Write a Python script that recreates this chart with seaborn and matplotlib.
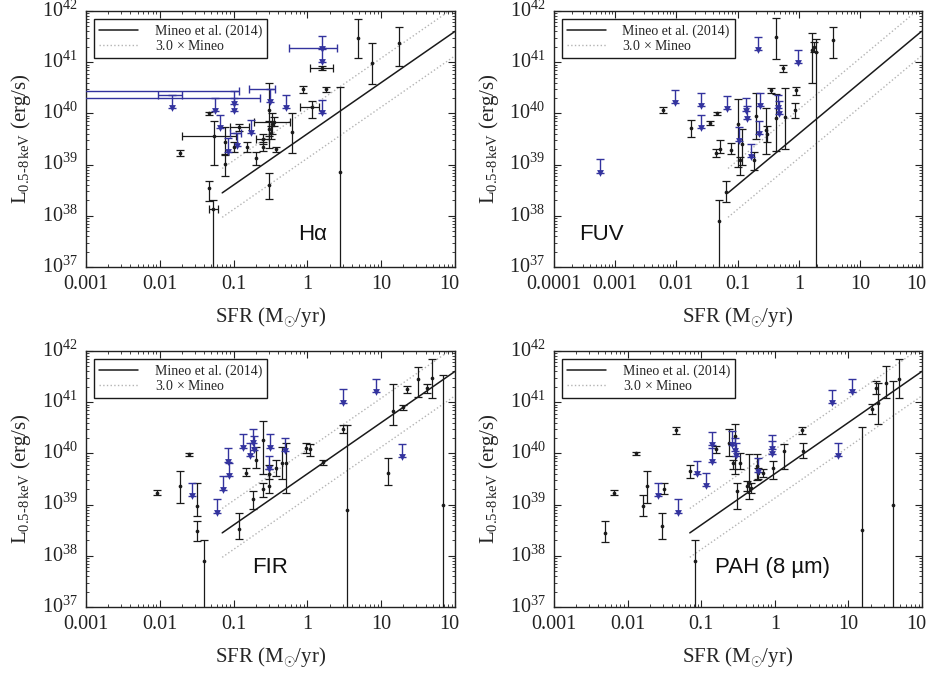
import numpy as np
import pandas as pd
import matplotlib
matplotlib.use("Agg")
import matplotlib.pyplot as plt
import matplotlib.transforms as mtransforms
import seaborn as sns
from matplotlib.lines import Line2D
from matplotlib.ticker import FixedLocator, FixedFormatter, LogLocator, NullFormatter

# ---------------------------------------------------------------- data
# Detections: SFR (Msun/yr), log10 L_X and its lower / upper bounds (log10 erg/s).
# A lower bound of 35 means the error bar reaches zero luminosity.
ha_sfr = [4.8, 7.4, 17.6, 2.8, 0.86, 1.79, 0.61, 0.305, 0.25, 0.37, 0.20, 0.15, 0.10,
          0.076, 0.046, 0.046, 0.0188, 0.305, 0.33, 0.30, 0.32, 0.076]
ha_logl = [41.48, 40.99, 41.38, 38.86, 40.47, 40.47, 39.64, 40.07, 39.35, 39.30, 39.12, 39.35, 39.35,
           39.02, 38.54, 40.00, 39.23, 38.60, 39.80, 39.70, 39.62, 39.45]
ha_logl_lo = [41.09, 40.57, 40.93, 35.0, 40.40, 40.41, 39.23, 39.32, 39.27, 39.25, 38.99, 39.24, 39.24,
              38.78, 38.28, 39.97, 39.17, 38.33, 39.60, 39.55, 39.50, 39.20]
ha_logl_hi = [41.84, 41.37, 41.68, 40.51, 40.54, 40.52, 40.00, 40.60, 39.44, 39.34, 39.25, 39.45, 39.45,
              39.18, 38.67, 40.03, 39.29, 38.83, 40.00, 39.85, 39.75, 39.73]
# Hα detections that also carry SFR error bars
ha_w_sfr = [0.055, 1.14, 1.58, 0.35, 0.053, 0.12, 0.25]
ha_w_sfr_lo = [0.020, 0.79, 1.10, 0.19, 0.046, 0.09, 0.20]
ha_w_sfr_hi = [0.108, 1.45, 2.20, 0.58, 0.062, 0.16, 0.30]
ha_w_logl = [39.55, 40.12, 40.89, 39.84, 38.13, 39.73, 39.50]
ha_w_logl_lo = [39.00, 39.90, 40.85, 39.75, 35.0, 39.66, 39.40]
ha_w_logl_hi = [39.85, 40.25, 40.93, 39.92, 38.31, 39.80, 39.60]
# Hα upper limits
ha_lim_sfr = [1.58, 0.065, 0.083, 0.17, 0.51, 1.56, 0.10]
ha_lim_logl = [41.51, 39.97, 39.51, 39.88, 40.36, 40.27, 40.31]
ha_limw_sfr = [1.58, 0.0145, 0.056, 0.10, 0.112, 0.31]
ha_limw_sfr_lo = [0.57, 0.0095, 0.0001, 0.0001, 0.090, 0.16]
ha_limw_sfr_hi = [2.50, 0.0200, 0.230, 0.120, 0.125, 0.36]
ha_limw_logl = [41.27, 40.36, 40.31, 40.44, 39.62, 40.48]

fuv_sfr = [0.006, 0.0175, 0.035, 0.046, 0.044, 0.052, 0.077, 0.064, 0.05, 0.103, 0.111, 0.12,
           0.187, 0.20, 0.287, 0.30, 0.43, 0.35, 0.557, 0.59, 0.90, 0.86, 1.61, 1.75, 3.6, 0.43, 1.9]
fuv_logl = [40.06, 39.71, 39.82, 40.00, 39.23, 39.30, 39.29, 38.47, 37.90, 39.80, 39.09, 39.41,
            39.09, 39.95, 39.67, 39.60, 39.90, 40.45, 40.88, 39.93, 40.45, 40.06, 41.24, 41.30, 41.43, 41.50, 41.20]
fuv_logl_lo = [40.00, 39.53, 39.78, 39.97, 39.15, 39.22, 39.20, 38.27, 35.0, 38.96, 38.80, 39.00,
               38.90, 39.50, 39.20, 39.45, 39.27, 40.40, 40.80, 39.30, 40.35, 39.90, 40.59, 41.20, 41.09, 41.07, 35.0]
fuv_logl_hi = [40.12, 39.87, 39.86, 40.03, 39.31, 39.48, 39.42, 38.68, 38.30, 40.29, 39.15, 39.70,
               39.25, 40.40, 40.10, 39.75, 40.37, 40.50, 40.95, 40.50, 40.52, 40.20, 41.56, 41.40, 41.69, 41.86, 41.45]
fuv_lim_sfr = [0.00058, 0.0096, 0.025, 0.025, 0.067, 0.106, 0.137, 0.145, 0.166, 0.218, 0.232,
               0.225, 0.46, 0.48, 0.98]
fuv_lim_logl = [39.10, 40.46, 40.40, 39.97, 40.34, 39.73, 40.30, 40.15, 39.40, 41.50, 40.40,
                39.86, 40.36, 40.25, 41.24]

fir_sfr = [0.0091, 0.019, 0.025, 0.032, 0.032, 0.04, 0.12, 0.147, 0.185, 0.20, 0.253, 0.253, 0.305,
           0.305, 0.376, 0.45, 0.51, 1.08, 0.95, 1.61, 3.07, 3.4, 12.5, 14.6, 20.0, 22.6, 31.2, 41.3,
           48.0, 69.5]
fir_logl = [39.23, 39.36, 39.98, 38.97, 38.48, 37.90, 38.53, 39.62, 39.10, 39.88, 40.27, 39.31, 39.36,
            39.60, 39.72, 39.82, 39.82, 40.08, 40.10, 39.83, 40.47, 38.90, 39.62, 40.83, 40.90, 41.25,
            41.45, 41.28, 41.48, 39.00]
fir_logl_lo = [39.18, 39.03, 39.95, 38.77, 38.28, 35.0, 38.32, 39.55, 38.92, 39.72, 39.60, 39.15, 39.23,
               39.50, 39.55, 39.50, 39.23, 39.95, 40.00, 39.78, 40.40, 35.0, 39.39, 40.55, 40.84, 41.18,
               41.10, 41.18, 41.08, 35.0]
fir_logl_hi = [39.28, 39.65, 40.01, 39.42, 38.67, 38.30, 38.83, 39.72, 39.27, 40.12, 40.63, 39.43, 39.78,
               39.70, 39.88, 40.12, 40.20, 40.18, 40.20, 39.88, 40.55, 40.55, 39.91, 41.36, 40.95, 41.31,
               41.68, 41.35, 41.84, 41.54]
fir_lim_sfr = [0.027, 0.059, 0.071, 0.085, 0.087, 0.135, 0.166, 0.185, 0.19, 0.31, 0.305, 0.50,
               3.0, 8.5, 19.0]
fir_lim_logl = [39.43, 39.10, 39.55, 40.10, 39.82, 40.37, 40.21, 40.47, 40.33, 40.37, 39.95, 40.30,
                41.25, 41.45, 40.18]

pah_sfr = [0.0049, 0.0065, 0.0132, 0.0163, 0.0186, 0.031, 0.0295, 0.045, 0.07, 0.082, 0.157, 0.238,
           0.27, 0.29, 0.34, 0.31, 0.415, 0.45, 0.48, 0.57, 0.60, 0.70, 0.96, 1.35, 2.38, 2.33, 15.2,
           20.8, 23.6, 25.2, 32.4, 39.8, 48.0]
pah_logl = [38.45, 39.23, 40.00, 38.97, 39.36, 39.31, 38.58, 40.45, 39.65, 37.90, 40.08, 40.20,
            39.82, 40.34, 39.82, 39.26, 39.36, 39.42, 39.33, 39.75, 39.62, 39.62, 39.72, 40.04, 40.04,
            40.45, 38.50, 40.86, 41.28, 40.99, 41.38, 39.00, 41.45]
pah_logl_lo = [38.26, 39.18, 39.97, 38.77, 39.03, 39.20, 38.32, 40.38, 39.52, 35.0, 40.00, 39.95,
               39.70, 39.60, 39.70, 38.92, 39.26, 39.10, 39.23, 39.48, 39.50, 39.54, 39.50, 39.70, 39.90,
               40.38, 35.0, 40.76, 41.15, 40.57, 41.09, 35.0, 41.09]
pah_logl_hi = [38.67, 39.28, 40.03, 39.18, 39.65, 39.42, 38.83, 40.52, 39.78, 38.30, 40.14, 40.47,
               39.88, 40.58, 40.00, 39.42, 39.46, 39.98, 39.42, 39.98, 39.72, 39.70, 39.85, 40.18, 40.20,
               40.52, 40.52, 40.96, 41.41, 41.38, 41.70, 41.41, 41.84]
pah_lim_sfr = [0.0255, 0.049, 0.088, 0.115, 0.139, 0.139, 0.26, 0.29, 0.30, 0.59, 0.91, 0.93,
               5.96, 11.1, 7.3]
pah_lim_logl = [39.43, 39.10, 39.85, 39.62, 40.42, 40.10, 40.43, 40.30, 40.20, 39.90, 40.35, 40.25,
                41.24, 41.45, 40.20]

# Mineo et al. (2014) L_X–SFR relation and its validity range
MINEO_COEFF = 4.0e39
MINEO_FACTOR = 3.0
mineo_sfr = [0.07, 100.0]

panel_names = ["Hα", "FUV", "FIR", "PAH (8 µm)"]
x_ticks_3 = ["0.001", "0.01", "0.1", "1", "10", "10"]
x_ticks_4 = ["0.0001", "0.001", "0.01", "0.1", "1", "10", "10"]
y_exponents = [37, 38, 39, 40, 41, 42]

# ---------------------------------------------------------------- style
sns.set_theme(style="ticks")
plt.rcParams.update({
    "font.family": ["Liberation Serif", "DejaVu Serif"],
    "mathtext.fontset": "custom",
    "mathtext.rm": "Liberation Serif",
    "mathtext.it": "Liberation Serif:italic",
    "mathtext.bf": "Liberation Serif:bold",
    "axes.edgecolor": "#222222",
    "axes.linewidth": 1.0,
    "xtick.color": "#222222",
    "ytick.color": "#222222",
})

BLACK = "#1a1a1a"
BLUE = "#33339e"
GREY = "#b4b4b4"
ARROW_DEX = 0.26


def draw_detections(ax, sfr, logl, lo, hi, sfr_lo=None, sfr_hi=None):
    x = np.asarray(sfr)
    y = 10 ** np.asarray(logl)
    ylo = y - 10 ** np.asarray(lo)
    yhi = 10 ** np.asarray(hi) - y
    xerr = None
    if sfr_lo is not None:
        xerr = [x - np.asarray(sfr_lo), np.asarray(sfr_hi) - x]
    ax.errorbar(x, y, yerr=[ylo, yhi], xerr=xerr, fmt="none", ecolor=BLACK,
                elinewidth=0.9, capsize=2.6, capthick=0.9, zorder=3)
    sns.scatterplot(x=x, y=y, ax=ax, color=BLACK, s=7, marker="o",
                    edgecolor=BLACK, linewidth=0, zorder=4, legend=False)


def draw_limits(ax, sfr, logl, sfr_lo=None, sfr_hi=None):
    x = np.asarray(sfr)
    y = 10 ** np.asarray(logl)
    tip = y * 10 ** (-ARROW_DEX)
    xerr = None
    if sfr_lo is not None:
        xerr = [x - np.asarray(sfr_lo), np.asarray(sfr_hi) - x]
    ax.errorbar(x, y, yerr=[y - tip, np.zeros_like(y)], xerr=xerr, fmt="none",
                ecolor=BLUE, elinewidth=1.0, capsize=2.8, capthick=1.0, zorder=3)
    sns.scatterplot(x=x, y=tip, ax=ax, color=BLUE, s=24, marker="v",
                    edgecolor=BLUE, linewidth=0, zorder=4, legend=False)


def style_axes(ax, xmin, xlabels):
    ax.set_xscale("log")
    ax.set_yscale("log")
    ax.set_xlim(xmin, 100)
    ax.set_ylim(1e37, 1e42)
    decades = [10.0 ** k for k in range(int(round(np.log10(xmin))), 3)]
    ax.xaxis.set_major_locator(FixedLocator(decades))
    ax.xaxis.set_major_formatter(FixedFormatter(xlabels))
    ax.yaxis.set_major_locator(FixedLocator([10.0 ** e for e in y_exponents]))
    ax.yaxis.set_major_formatter(FixedFormatter(
        [r"$\mathregular{10^{%d}}$" % e for e in y_exponents]))
    for axis in (ax.xaxis, ax.yaxis):
        axis.set_minor_locator(LogLocator(base=10, subs=np.arange(2, 10), numticks=20))
        axis.set_minor_formatter(NullFormatter())
    ax.tick_params(which="both", direction="in", top=True, right=True, labelsize=14.5)
    ax.tick_params(which="major", length=5, width=0.8, pad=6)
    ax.tick_params(which="minor", length=2.5, width=0.6)
    ax.set_xlabel(r"SFR (M$_{\odot}$/yr)", fontsize=15, labelpad=8)
    ax.set_ylabel(r"L$_{\mathregular{0.5\text{-}8\,keV}}$ (erg/s)", fontsize=15, labelpad=6)


def nudge_tick_labels(ax):
    # raise the 10^n labels so the base digits sit on the tick, and pull the last x label in
    up = mtransforms.ScaledTranslation(0, 1.8 / 72, ax.figure.dpi_scale_trans)
    for t in ax.yaxis.get_major_ticks():
        t.label1.set_transform(t.label1.get_transform() + up)
    left = mtransforms.ScaledTranslation(-4 / 72, 0, ax.figure.dpi_scale_trans)
    last = ax.xaxis.get_major_ticks()[len(ax.get_xticks()) - 1]
    last.label1.set_transform(last.label1.get_transform() + left)


def draw_mineo(ax):
    x = np.asarray(mineo_sfr)
    base = MINEO_COEFF * x
    sns.lineplot(x=x, y=base, ax=ax, color=BLACK, linewidth=1.1, legend=False, zorder=2)
    sns.lineplot(x=x, y=base * MINEO_FACTOR, ax=ax, color=GREY, linewidth=1.0,
                 linestyle=":", legend=False, zorder=2)
    sns.lineplot(x=x, y=base / MINEO_FACTOR, ax=ax, color=GREY, linewidth=1.0,
                 linestyle=":", legend=False, zorder=2)


def add_legend(ax):
    handles = [Line2D([], [], color=BLACK, lw=1.1),
               Line2D([], [], color=GREY, lw=1.0, ls=":")]
    leg = ax.legend(handles, ["Mineo et al. (2014)", r"3.0$\,\times\,$Mineo"], loc="upper left",
                    fontsize=10, frameon=True, fancybox=False, edgecolor=BLACK, framealpha=1,
                    handlelength=2.8, borderaxespad=0.6, borderpad=0.35,
                    labelspacing=0.1, handletextpad=1.2)
    leg.get_frame().set_linewidth(1.0)


fig = plt.figure(figsize=(9.30, 6.73), dpi=100)
positions = [
    [0.0925, 0.6033, 0.3968, 0.3804],
    [0.5952, 0.6033, 0.3957, 0.3804],
    [0.0925, 0.0981, 0.3968, 0.3804],
    [0.5957, 0.0981, 0.3957, 0.3804],
]
axes = [fig.add_axes(p) for p in positions]
label_font = ["Liberation Sans", "DejaVu Sans"]

# Hα
ax = axes[0]
style_axes(ax, 1e-3, x_ticks_3)
draw_mineo(ax)
draw_detections(ax, ha_sfr, ha_logl, ha_logl_lo, ha_logl_hi)
draw_detections(ax, ha_w_sfr, ha_w_logl, ha_w_logl_lo, ha_w_logl_hi, ha_w_sfr_lo, ha_w_sfr_hi)
draw_limits(ax, ha_lim_sfr, ha_lim_logl)
draw_limits(ax, ha_limw_sfr, ha_limw_logl, ha_limw_sfr_lo, ha_limw_sfr_hi)
ax.text(0.574, 0.105, panel_names[0], transform=ax.transAxes, fontsize=16,
        family=label_font, color="#111111")

# FUV
ax = axes[1]
style_axes(ax, 1e-4, x_ticks_4)
draw_mineo(ax)
draw_detections(ax, fuv_sfr, fuv_logl, fuv_logl_lo, fuv_logl_hi)
draw_limits(ax, fuv_lim_sfr, fuv_lim_logl)
ax.text(0.07, 0.105, panel_names[1], transform=ax.transAxes, fontsize=16,
        family=label_font, color="#111111")

# FIR
ax = axes[2]
style_axes(ax, 1e-3, x_ticks_3)
draw_mineo(ax)
draw_detections(ax, fir_sfr, fir_logl, fir_logl_lo, fir_logl_hi)
draw_limits(ax, fir_lim_sfr, fir_lim_logl)
ax.text(0.45, 0.133, panel_names[2], transform=ax.transAxes, fontsize=16,
        family=label_font, color="#111111")

# PAH
ax = axes[3]
style_axes(ax, 1e-3, x_ticks_3)
draw_mineo(ax)
draw_detections(ax, pah_sfr, pah_logl, pah_logl_lo, pah_logl_hi)
draw_limits(ax, pah_lim_sfr, pah_lim_logl)
ax.text(0.437, 0.133, panel_names[3], transform=ax.transAxes, fontsize=16,
        family=label_font, color="#111111")

for ax in axes:
    ax.set_xlim(ax.get_xlim()[0], 100)
    ax.set_ylim(1e37, 1e42)
    add_legend(ax)
    nudge_tick_labels(ax)

fig.savefig("out.png", dpi=100, facecolor="white")
